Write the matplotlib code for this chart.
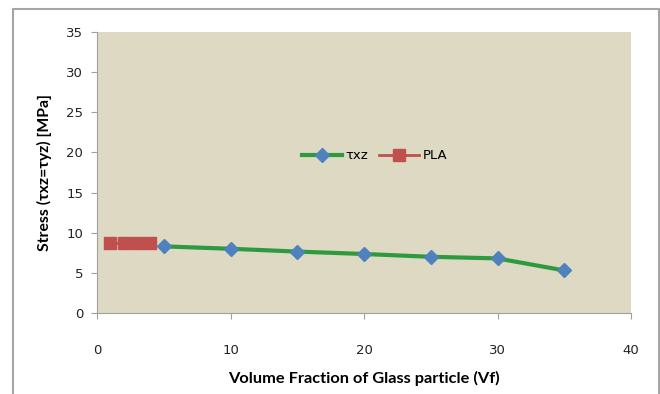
import matplotlib
matplotlib.use("Agg")
import matplotlib.pyplot as plt
from matplotlib.patches import Rectangle

plt.rcParams['font.family'] = ['Lato', 'DejaVu Sans']

vf = [5, 10, 15, 20, 25, 30, 35]
tau_xz = [8.3, 8.0, 7.65, 7.35, 7.0, 6.8, 5.3]
pla_x = [1, 2, 3, 4]
pla_y = [8.7, 8.7, 8.7, 8.7]

fig = plt.figure(figsize=(6.6, 3.94), dpi=100)
fig.patches.append(Rectangle((13/660, -0.1), (659-13)/660, 1 - 9/394 + 0.1,
                             transform=fig.transFigure, fill=False,
                             edgecolor='#a6a6a6', linewidth=1.5))
ax = fig.add_axes([97/660, 1-313/394, (631-97)/660, (313-32)/394])
ax.set_facecolor('#ddd9c3')

ax.plot(vf, tau_xz, color='#2e9a3e', linewidth=3, marker='D', markersize=7,
        markerfacecolor='#4f81bd', markeredgecolor='#4f81bd', label='τxz', zorder=3)
ax.plot(pla_x, pla_y, color='#c0504d', linewidth=2, marker='s', markersize=9,
        markerfacecolor='#c0504d', markeredgecolor='#c0504d', label='PLA', zorder=2)

ax.set_xlim(0, 40)
ax.set_ylim(0, 35)
ax.set_xticks([0, 10, 20, 30, 40])
ax.set_yticks(range(0, 36, 5))
for s in ['top', 'right']:
    ax.spines[s].set_visible(False)
for s in ['left', 'bottom']:
    ax.spines[s].set_color('#a0a0a0')
ax.tick_params(axis='both', colors='#a0a0a0', labelcolor='#222222', labelsize=9.5, length=4)
for lbl in ax.get_xticklabels() + ax.get_yticklabels():
    lbl.set_family('DejaVu Sans')
ax.tick_params(axis='x', pad=18)
ax.tick_params(axis='y', pad=6)

ax.set_xlabel('Volume Fraction of Glass particle (Vf)', fontsize=11.8, fontweight='bold', labelpad=10)
ax.set_ylabel('Stress (τxz=τyz) [MPa]', fontsize=11.3, fontweight='bold', labelpad=10)

leg = ax.legend(loc='center', bbox_to_anchor=(0.52, 0.56), ncol=2, frameon=False,
                fontsize=9.5, handlelength=3, columnspacing=0.8, handletextpad=0.3,
                prop={'family': ['DejaVu Sans'], 'size': 9.5})

fig.savefig('out.png', dpi=100)
